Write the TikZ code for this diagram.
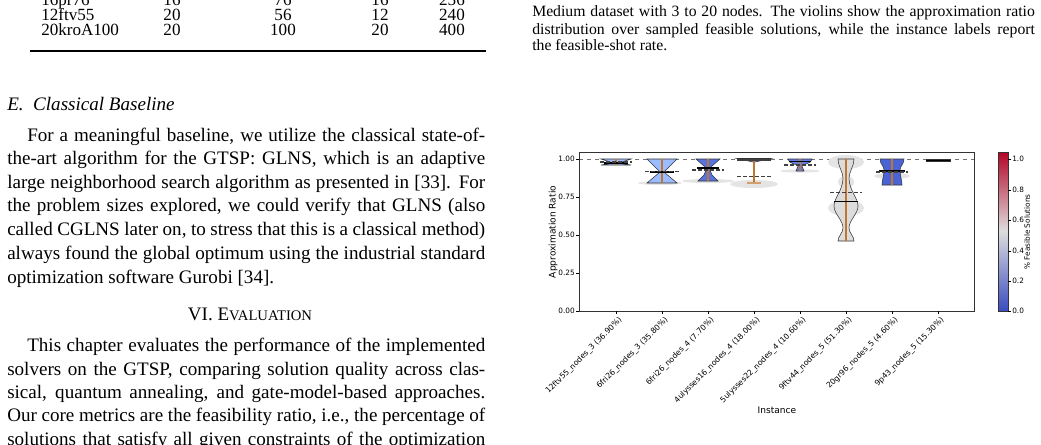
\documentclass[tikz,border=0pt]{standalone}
\usepackage{fontspec}
\setmainfont{Liberation Serif}
\newfontfamily\plotfont{DejaVu Sans}
\definecolor{cA}{HTML}{9DBDFF}
\definecolor{cB}{HTML}{9BBCFF}
\definecolor{cC}{HTML}{5673E0}
\definecolor{cD}{HTML}{7A9DF8}
\definecolor{cE}{HTML}{5F7FE8}
\definecolor{cF}{HTML}{DDDCDC}
\definecolor{cG}{HTML}{4B64D5}
\definecolor{cH}{HTML}{6F92F3}
\definecolor{vline}{HTML}{C0762F}
\definecolor{shadowg}{HTML}{E4E4E4}
\definecolor{cbred}{HTML}{B40426}
\definecolor{cbmid}{HTML}{DDDDDD}
\definecolor{cbblue}{HTML}{3B4CC0}
\tikzset{
 body/.style={font=\fontsize{14.3}{16}\selectfont, inner sep=0pt, anchor=mid west},
 captext/.style={font=\fontsize{11.8}{13}\selectfont, inner sep=0pt, anchor=mid west},
 tab/.style={font=\fontsize{12.8}{14}\selectfont, inner sep=0pt, anchor=mid},
 ticklab/.style={font=\plotfont\fontsize{5.5}{6}\selectfont, inner sep=0pt},
 xlab/.style={font=\plotfont\fontsize{5.8}{6}\selectfont, inner sep=0pt, rotate=45, anchor=north east},
 axlab/.style={font=\plotfont\fontsize{6.8}{7}\selectfont, inner sep=0pt},
 viol/.style={draw=black!80, line width=0.4pt},
 med/.style={black, line width=1pt},
 mean/.style={black!75, line width=0.8pt, dash pattern=on 3pt off 1.5pt},
 rng/.style={vline, line width=0.9pt},
 shad/.style={fill=shadowg, draw=none},
}
\newcommand{\fl}[2]{\makebox[#1][s]{#2}}
\begin{document}
\begin{tikzpicture}[x=0.75pt,y=-0.75pt]
\useasboundingbox (0,0) rectangle (1041,444);
\clip (0,0) rectangle (1041,444);
\fill[white] (0,0) rectangle (1041,444);
% ---- table
\node[tab,anchor=mid west] (r1n) at (41,2) {16pr76};
\node[tab] (r1a) at (172,2) {16}; \node[tab] (r1b) at (283,2) {76}; \node[tab] (r1c) at (380,2) {16}; \node[tab] (r1d) at (452,2) {256};
\node[tab,anchor=mid west] (r2n) at (41,17) {12ftv55};
\node[tab] (r2a) at (172,17) {20}; \node[tab] (r2b) at (283,17) {56}; \node[tab] (r2c) at (380,17) {12}; \node[tab] (r2d) at (452,17) {240};
\node[tab,anchor=mid west] (r3n) at (41,32) {20kroA100};
\node[tab] (r3a) at (172,32) {20}; \node[tab] (r3b) at (283,32) {100}; \node[tab] (r3c) at (380,32) {20}; \node[tab] (r3d) at (452,32) {400};
\draw[line width=1.4pt] (30,51) -- (486,51);
% ---- left text
\node[body] (sE) at (7,107) {\textit{E.\ \ Classical Baseline}};
\node[body] (p1) at (27,138) {\fl{343.5pt}{For a meaningful baseline, we utilize the classical state-of-}};
\node[body] (p2) at (7,161) {\fl{358.5pt}{the-art algorithm for the GTSP: GLNS, which is an adaptive}};
\node[body] (p3) at (7,185) {\fl{358.5pt}{large neighborhood search algorithm as presented in [33]. For}};
\node[body] (p4) at (7,208) {\fl{358.5pt}{the problem sizes explored, we could verify that GLNS (also}};
\node[body] (p5) at (7,232) {\fl{358.5pt}{called CGLNS later on, to stress that this is a classical method)}};
\node[body] (p6) at (7,256) {\fl{358.5pt}{always found the global optimum using the industrial standard}};
\node[body] (p7) at (7,280) {optimization software Gurobi [34].};
\node[body,anchor=mid] (s6) at (250,317) {VI. E{\fontsize{11}{12}\selectfont VALUATION}};
\node[body] (q1) at (27,348) {\fl{343.5pt}{This chapter evaluates the performance of the implemented}};
\node[body] (q2) at (7,372) {\fl{358.5pt}{solvers on the GTSP, comparing solution quality across clas-}};
\node[body] (q3) at (7,395) {\fl{358.5pt}{sical, quantum annealing, and gate-model-based approaches.}};
\node[body] (q4) at (7,418) {\fl{358.5pt}{Our core metrics are the feasibility ratio, i.e., the percentage of}};
\node[body] (q5) at (7,442) {\fl{358.5pt}{solutions that satisfy all given constraints of the optimization}};
% ---- caption
\node[captext] (c1) at (532,13) {\fl{377pt}{Medium dataset with 3 to 20 nodes. The violins show the approximation ratio}};
\node[captext] (c2) at (532,31) {\fl{377pt}{distribution over sampled feasible solutions, while the instance labels report}};
\node[captext] (c3) at (532,47) {the feasible-shot rate.};
% ---- plot
\draw[black!55, dashed, line width=0.5pt] (579,159) -- (974,159);
% violin 1
\draw[viol,fill=cA] (601,159) -- (613,163) -- (601,165) -- (631,165) -- (619,163) -- (631,159) -- cycle;
\draw[rng] (616,159) -- (616,165);
\draw[med] (604,163) -- (628,163);
\draw[mean] (600,162) -- (632,162);
% violin 2
\fill[shad] (660,183) ellipse (22 and 2);
\draw[viol,fill=cB] (647,159) -- (660,172) -- (647,183) -- (677,183) -- (664,172) -- (677,159) -- cycle;
\draw[rng] (662,159) -- (662,183);
\draw[med] (650,172) -- (674,172);
\draw[mean] (645,171.5) -- (679,171.5);
% violin 3
\fill[shad] (708,181) ellipse (26 and 2);
\draw[viol,fill=cC] (696,159) -- (704,166) -- (706,170) -- (704,175) -- (698,181) -- (718,181) -- (712,175) -- (710,170) -- (712,166) -- (720,159) -- cycle;
\draw[rng] (708,159) -- (708,181);
\draw[med] (697,168) -- (719,168);
\draw[mean] (692,170) -- (724,170);
% violin 4
\fill[shad] (754,184) ellipse (24 and 4);
\draw[viol,fill=cD] (737,158.5) -- (771,158.5) -- (755,162) -- (753,162) -- cycle;
\draw[rng] (754,159) -- (754,184);
\draw[vline!70!white,line width=0.8pt] (747,183) -- (761,183);
\draw[black!75, line width=1.5pt] (737,159.5) -- (771,159.5);
\draw[mean] (737,176.5) -- (771,176.5);
% violin 5
\fill[shad] (800,171) ellipse (20 and 1.5);
\draw[viol,fill=cE] (788,159) .. controls (788,164) and (798,164) .. (798,166) -- (796,171) -- (804,171) -- (802,166) .. controls (802,164) and (812,164) .. (812,159) -- cycle;
\draw[rng] (800,159) -- (800,171);
\draw[med] (789,161.5) -- (811,161.5);
\draw[mean] (784,165) -- (816,165);
% violin 6
\fill[shad] (846,162) ellipse (18 and 7);
\fill[shad] (846,182) ellipse (8 and 6);
\fill[shad] (846,208) ellipse (18 and 8);
\draw[viol,fill=cF] (838,159) .. controls (838,166) and (843,172) .. (843,178) .. controls (843,190) and (834,198) .. (834,206) .. controls (834,214) and (843,220) .. (843,228) .. controls (843,233) and (838,236) .. (838,241) -- (854,241) .. controls (854,236) and (849,233) .. (849,228) .. controls (849,220) and (858,214) .. (858,206) .. controls (858,198) and (849,190) .. (849,178) .. controls (849,172) and (854,166) .. (854,159) -- cycle;
\draw[rng] (846,159) -- (846,241);
\draw[med] (834,201.5) -- (858,201.5);
\draw[mean] (830,192.5) -- (862,192.5);
% violin 7
\fill[shad] (892,176) ellipse (18 and 3);
\draw[viol,fill=cG] (880,159) .. controls (880,164) and (884,166) .. (884,170) .. controls (884,176) and (882,180) .. (882,185) -- (902,185) .. controls (902,180) and (900,176) .. (900,170) .. controls (900,166) and (904,164) .. (904,159) -- cycle;
\draw[rng] (892,159) -- (892,185);
\draw[med] (879,171) -- (905,171);
\draw[mean] (876,172) -- (908,172);
% violin 8
\draw[viol,fill=cH] (926,159) -- (950,159) -- (950,161.5) -- (926,161.5) -- cycle;
\draw[black,line width=1.4pt] (926,160.5) -- (950,160.5);
% axes box
\draw[black!80,line width=0.7pt] (579,152) rectangle (974,311);
\foreach \v/\yy in {0.00/311,0.25/273,0.50/235,0.75/197,1.00/159}{
 \draw[line width=0.5pt] (579,\yy) -- (576,\yy);
 \node[ticklab,anchor=east] at (575,\yy) {\v};
}
\foreach \xx/\lab in {616/12ftv55\_nodes\_3 (36.90\%),662/6fri26\_nodes\_3 (35.80\%),708/6fri26\_nodes\_4 (7.70\%),754/4ulysses16\_nodes\_4 (18.00\%),800/5ulysses22\_nodes\_4 (10.60\%),846/9ftv44\_nodes\_5 (51.30\%),892/20gr96\_nodes\_5 (4.60\%),938/9p43\_nodes\_5 (15.30\%)}{
 \draw[line width=0.5pt] (\xx,311) -- (\xx,314);
 \node[xlab] at (\xx+2,316) {\lab};
}
\node[axlab,rotate=90] (ylab) at (553,232) {Approximation Ratio};
\node[axlab] (xlabn) at (777,410) {Instance};
% colorbar
\shade[top color=cbred, bottom color=cbmid] (998,152) rectangle (1008,231);
\shade[top color=cbmid, bottom color=cbblue] (998,231) rectangle (1008,311);
\draw[black!80,line width=0.5pt] (998,152) rectangle (1008,311);
\foreach \v/\yy in {0.0/311,0.2/281,0.4/251,0.6/220,0.8/190,1.0/159}{
 \draw[line width=0.5pt] (1008,\yy) -- (1011,\yy);
 \node[ticklab,anchor=west] at (1012,\yy) {\v};
}
\node[ticklab,rotate=90] (cblab) at (1027,232) {\% Feasible Solutions};
\end{tikzpicture}
\end{document}
